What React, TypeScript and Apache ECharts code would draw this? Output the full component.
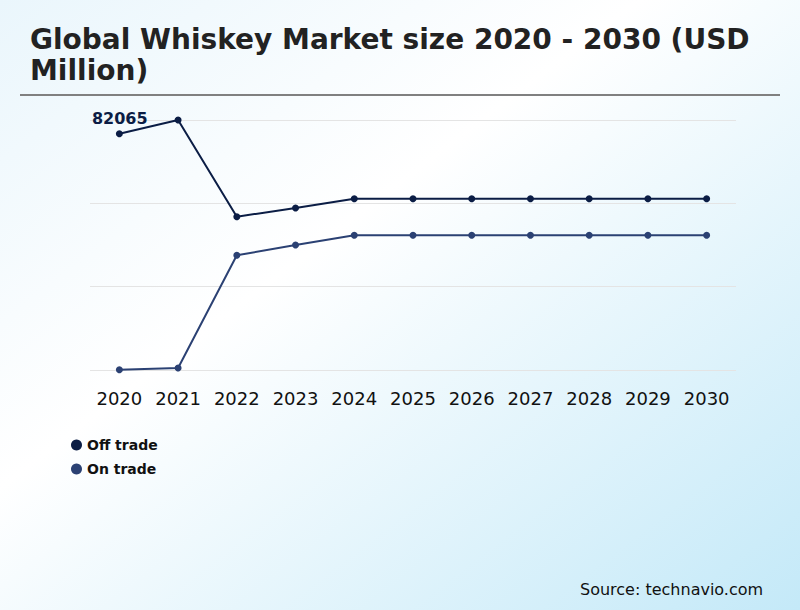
import React, { useEffect, useRef } from "react";
import * as echarts from "echarts";

// Market size by year (USD Million)
const years = ["2020", "2021", "2022", "2023", "2024", "2025", "2026", "2027", "2028", "2029", "2030"];
const offTrade = [77570, 82065, 50330, 53180, 56230, 56230, 56230, 56230, 56230, 56230, 56230];
const onTrade = [100, 650, 37650, 41030, 44220, 44220, 44220, 44220, 44220, 44220, 44220];
const seriesNames = ["Off trade", "On trade"];
const seriesColors = ["#0b1d45", "#2b4173"];
const highlightIndex = 1;

const FONT = "DejaVu Sans, sans-serif";

export default function App() {
  const ref = useRef<HTMLDivElement>(null);

  useEffect(() => {
    if (!ref.current) return;
    const chart = echarts.init(ref.current, null, { renderer: "svg" });
    const maxVal = Math.max(...offTrade, ...onTrade);
    chart.setOption({
      animation: false,
      backgroundColor: {
        type: "linear",
        x: 0,
        y: 0,
        x2: 1,
        y2: 1,
        colorStops: [
          { offset: 0, color: "#eaf6fc" },
          { offset: 0.4, color: "#ffffff" },
          { offset: 1, color: "#c4e9f8" },
        ],
      },
      title: {
        text: "Global Whiskey Market size 2020 - 2030 (USD\nMillion)",
        left: 25,
        top: 19,
        textStyle: {
          fontFamily: FONT,
          fontSize: 28,
          fontWeight: "bold",
          color: "#222222",
          lineHeight: 31,
        },
      },
      graphic: [
        {
          type: "line",
          shape: { x1: 20, y1: 95, x2: 780, y2: 95 },
          style: { stroke: "#808080", lineWidth: 2 },
        },
        {
          type: "text",
          left: 580,
          top: 581,
          style: { text: "Source: technavio.com", font: `16px ${FONT}`, fill: "#111111" },
        },
      ],
      legend: {
        orient: "vertical",
        left: 66,
        top: 433,
        itemGap: 10,
        icon: "circle",
        itemWidth: 11,
        itemHeight: 11,
        textStyle: { fontFamily: FONT, fontSize: 14, fontWeight: "bold", color: "#111111" },
        data: seriesNames,
      },
      grid: { left: 90, top: 120, width: 646, height: 250 },
      xAxis: {
        type: "category",
        data: years,
        boundaryGap: true,
        axisLine: { show: false },
        axisTick: { show: false },
        axisLabel: { interval: 0, fontFamily: FONT, fontSize: 18, color: "#111111", margin: 19 },
      },
      yAxis: {
        type: "value",
        min: 0,
        max: maxVal,
        interval: maxVal / 3,
        axisLabel: { show: false },
        axisLine: { show: false },
        axisTick: { show: false },
        splitLine: { lineStyle: { color: "#e4e4e4", width: 1 } },
      },
      series: [
        {
          name: seriesNames[0],
          type: "line",
          color: seriesColors[0],
          symbol: "circle",
          symbolSize: 7,
          lineStyle: { width: 2 },
          data: offTrade.map((v, i) =>
            i === highlightIndex
              ? {
                  value: v,
                  label: {
                    show: true,
                    position: "left",
                    distance: 27,
                    offset: [0, -2],
                    fontFamily: FONT,
                    fontSize: 16,
                    fontWeight: "bold",
                    color: "#0b1d45",
                  },
                }
              : v
          ),
        },
        {
          name: seriesNames[1],
          type: "line",
          color: seriesColors[1],
          symbol: "circle",
          symbolSize: 7,
          lineStyle: { width: 2 },
          data: onTrade,
        },
      ],
    });
    return () => chart.dispose();
  }, []);

  return (
    <div
      ref={ref}
      style={{ position: "fixed", left: 0, top: 0, width: 800, height: 610 }}
    />
  );
}
